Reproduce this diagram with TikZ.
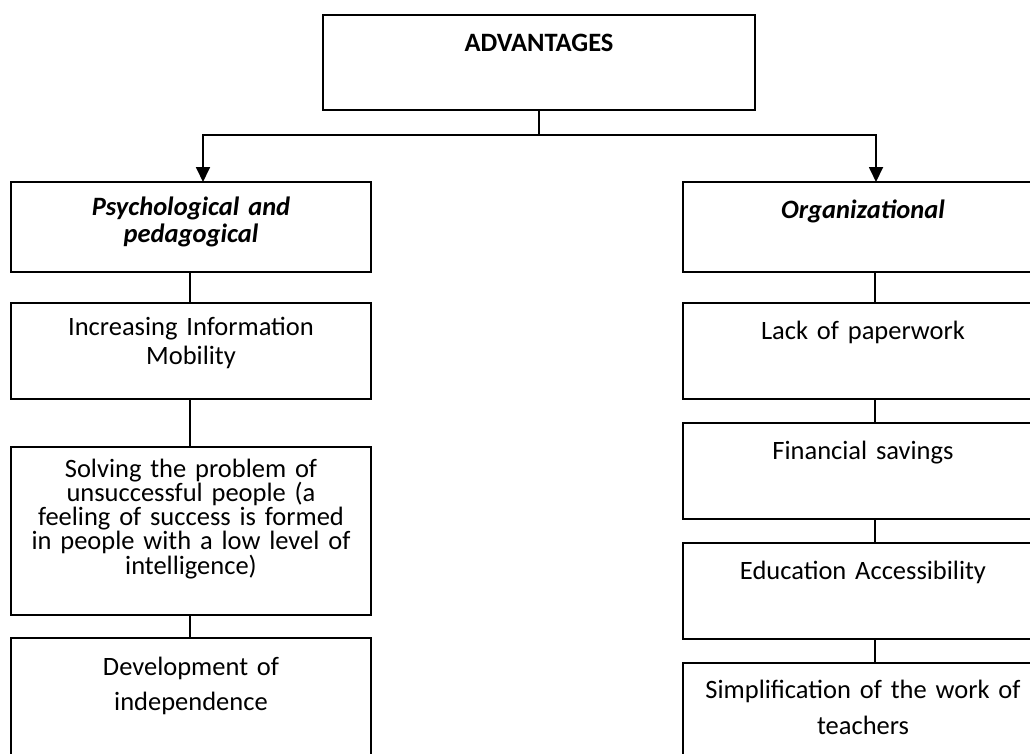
\documentclass[tikz,border=0pt]{standalone}
\usepackage{fontspec}
\setmainfont{Carlito}
\usetikzlibrary{arrows.meta}
\begin{document}
\begin{tikzpicture}[x=1pt,y=-1pt,
  boxA/.style={draw,line width=1.8pt,inner sep=0pt,outer sep=0pt,anchor=north west,minimum width=432pt,minimum height=95pt},
  boxB/.style={draw,line width=1.6pt,inner sep=0pt,outer sep=0pt,anchor=north west,minimum width=360pt},
  txt/.style={anchor=base,inner sep=0pt,text width=350pt,align=center},
  conn/.style={line width=1.3pt},
  arr/.style={line width=1.8pt,-{Triangle[width=14pt,length=15pt]}}]
\useasboundingbox (0,0) rectangle (1030,753);
\clip (0,0) rectangle (1030,753);
% boxes
\node[boxA] (adv) at (323,15) {};
\node[boxB,minimum height=90pt] (lb1) at (11,182) {};
\node[boxB,minimum height=96pt] (lb2) at (11,303) {};
\node[boxB,minimum height=168pt] (lb3) at (11,447) {};
\node[boxB,minimum height=130pt] (lb4) at (11,638) {};
\node[boxB,minimum height=90pt] (rb1) at (683,182) {};
\node[boxB,minimum height=96pt] (rb2) at (683,303) {};
\node[boxB,minimum height=96pt] (rb3) at (683,423) {};
\node[boxB,minimum height=96pt] (rb4) at (683,543) {};
\node[boxB,minimum height=110pt] (rb5) at (683,663) {};
% texts
\node[txt,font={\fontsize{26.5}{29}\selectfont\bfseries}] (tadv) at (539,51) {ADVANTAGES};
\node[txt,font={\fontsize{26.5}{27}\selectfont\bfseries\itshape}] (tl1) at (191,215) {Psychological and\\pedagogical};
\node[txt,font={\fontsize{26.5}{29}\selectfont}] (tl2) at (191,335) {Increasing Information\\Mobility};
\node[txt,font={\fontsize{26.5}{19}\selectfont}] (tl3) at (191,477) {Solving the problem of\\unsuccessful people (a\\feeling of success is formed\\in people with a low level of\\intelligence)};
\node[txt,font={\fontsize{26.5}{35}\selectfont}] (tl4) at (191,675) {Development of\\independence};
\node[txt,font={\fontsize{26.5}{29}\selectfont\bfseries\itshape}] (tr1) at (863,218) {Organizational};
\node[txt,font={\fontsize{26.5}{29}\selectfont}] (tr2) at (863,339) {Lack of paperwork};
\node[txt,font={\fontsize{26.5}{29}\selectfont}] (tr3) at (863,459) {Financial savings};
\node[txt,font={\fontsize{26.5}{29}\selectfont}] (tr4) at (863,579) {Education Accessibility};
\node[txt,font={\fontsize{26.5}{36}\selectfont}] (tr5) at (863,698) {Simplification of the work of\\teachers};
% connectors
\path (adv.south) ++(0,25) coordinate (j);
\draw[line width=1.8pt] (adv.south) -- (j);
\draw[arr] (j) -| ([xshift=12pt]lb1.north);
\draw[arr] (j) -| ([xshift=13pt]rb1.north);
\draw[conn] ([xshift=-1pt]lb1.south) -- ([xshift=-1pt]lb2.north);
\draw[conn] ([xshift=-1pt]lb2.south) -- ([xshift=-1pt]lb3.north);
\draw[conn] ([xshift=-1pt]lb3.south) -- ([xshift=-1pt]lb4.north);
\draw[conn] ([xshift=12pt]rb1.south) -- ([xshift=12pt]rb2.north);
\draw[conn] ([xshift=12pt]rb2.south) -- ([xshift=12pt]rb3.north);
\draw[conn] ([xshift=12pt]rb3.south) -- ([xshift=12pt]rb4.north);
\draw[conn] ([xshift=12pt]rb4.south) -- ([xshift=12pt]rb5.north);
\end{tikzpicture}
\end{document}
